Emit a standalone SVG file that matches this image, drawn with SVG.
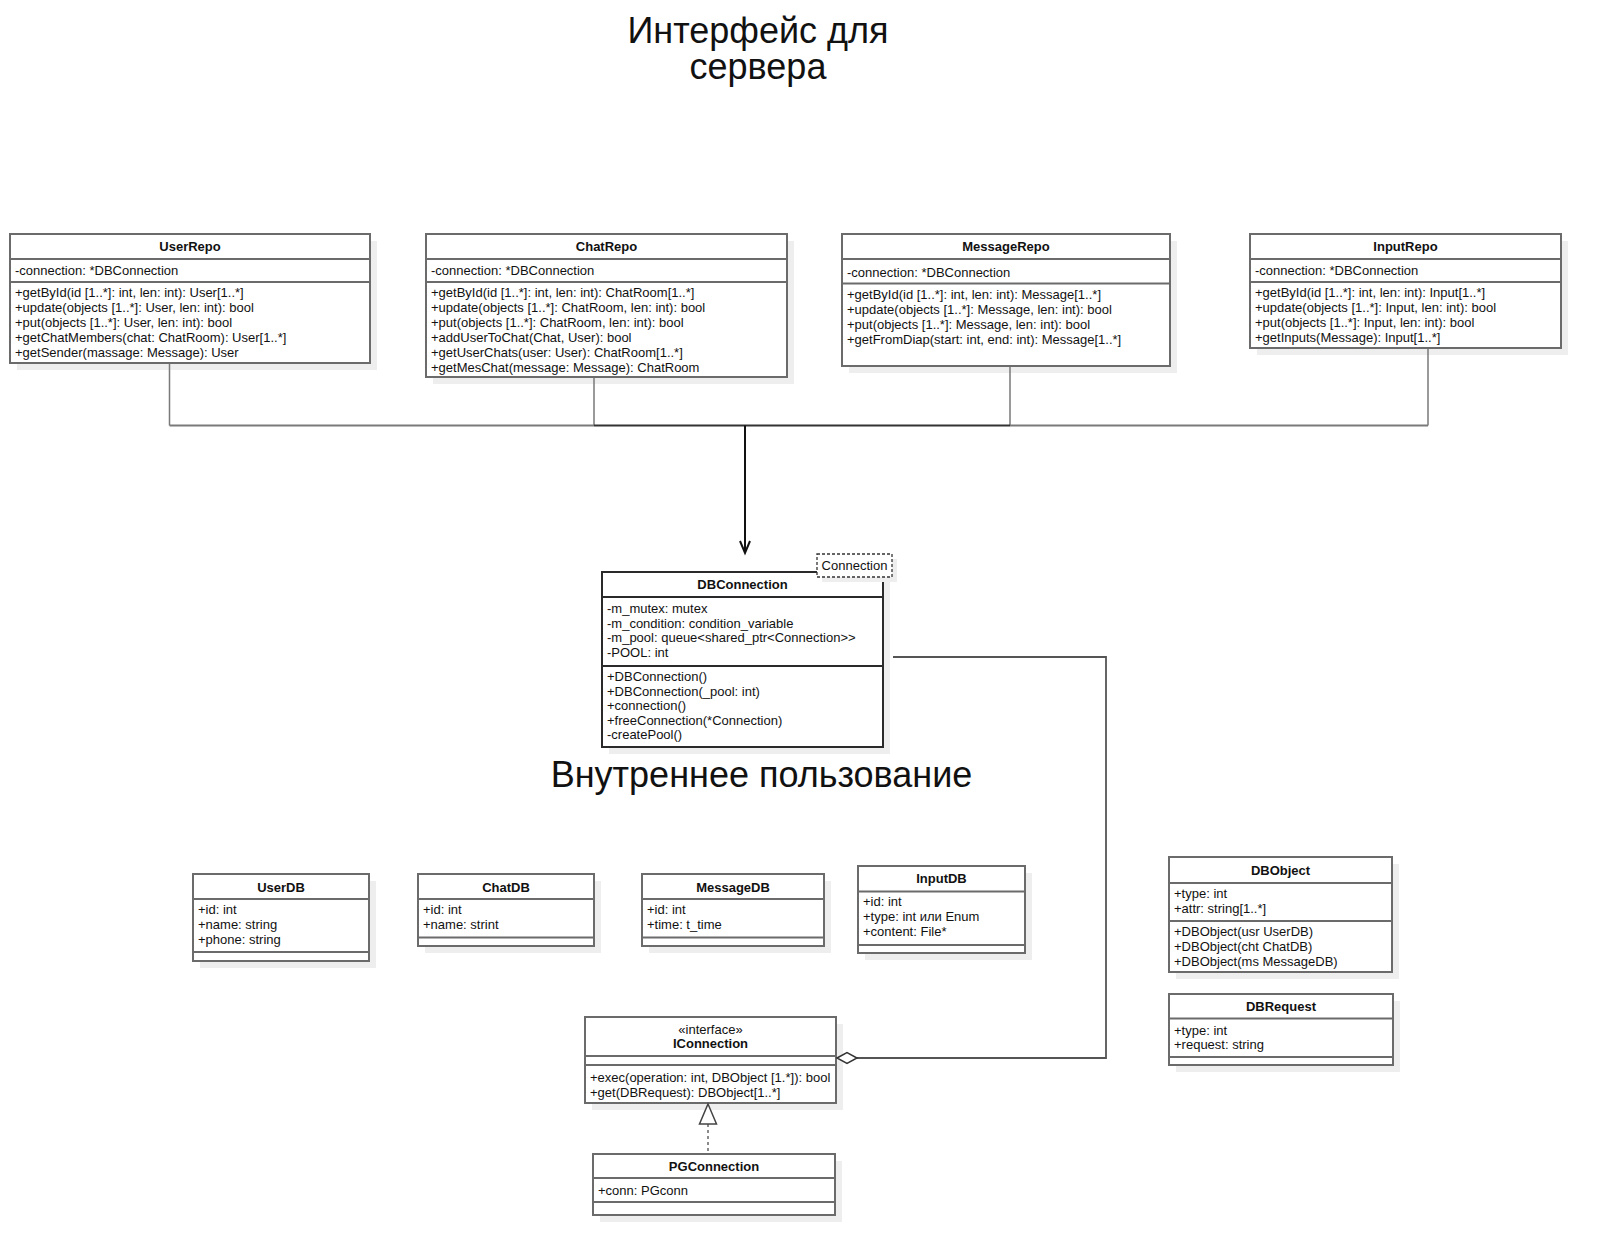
<svg xmlns="http://www.w3.org/2000/svg" width="1601" height="1257" viewBox="0 0 1601 1257">
<style>
text { font-family: "Liberation Sans", Arial, sans-serif; fill:#111; }
.t { font-size:13px; }
.b { font-size:13px; font-weight:bold; text-anchor:middle; }
.m { font-size:13px; text-anchor:middle; }
.big { font-size:36px; text-anchor:middle; }
.box { fill:#fff; stroke:#6b6b6b; stroke-width:2; }
.dk { stroke:#2a2a2a; }
.sh { fill:#eeeeee; }
.sep { stroke:#6b6b6b; stroke-width:2; }
.sepd { stroke:#2a2a2a; stroke-width:2; }
.ln { fill:none; stroke:#7a7a7a; stroke-width:1.5; }
</style>
<rect width="1601" height="1257" fill="#fff"/>

<g id="title-server">
<text class="big" x="758" y="43"><tspan x="758" y="43">Интерфейс для</tspan><tspan x="758" y="79">сервера</tspan></text>
</g>
<g id="title-internal">
<text class="big" x="761.5" y="787">Внутреннее пользование</text>
</g>

<g id="UserRepo">
<rect class="sh" x="17" y="241" width="360" height="129"/>
<rect class="box" x="10" y="234" width="360" height="129"/>
<line class="sep" x1="10" y1="259" x2="370" y2="259"/>
<line class="sep" x1="10" y1="282" x2="370" y2="282"/>
<text class="b" x="190" y="251">UserRepo</text>
<text class="t" x="15" y="275">-connection: *DBConnection</text>
<text class="t" x="15" y="297">+getById(id [1..*]: int, len: int): User[1..*]</text>
<text class="t" x="15" y="312">+update(objects [1..*]: User, len: int): bool</text>
<text class="t" x="15" y="327">+put(objects [1..*]: User, len: int): bool</text>
<text class="t" x="15" y="342">+getChatMembers(chat: ChatRoom): User[1..*]</text>
<text class="t" x="15" y="357">+getSender(massage: Message): User</text>
</g>

<g id="ChatRepo">
<rect class="sh" x="433" y="241" width="361" height="143"/>
<rect class="box" x="426" y="234" width="361" height="143"/>
<line class="sep" x1="426" y1="259" x2="787" y2="259"/>
<line class="sep" x1="426" y1="282" x2="787" y2="282"/>
<text class="b" x="606.5" y="251">ChatRepo</text>
<text class="t" x="431" y="275">-connection: *DBConnection</text>
<text class="t" x="431" y="297">+getById(id [1..*]: int, len: int): ChatRoom[1..*]</text>
<text class="t" x="431" y="312">+update(objects [1..*]: ChatRoom, len: int): bool</text>
<text class="t" x="431" y="327">+put(objects [1..*]: ChatRoom, len: int): bool</text>
<text class="t" x="431" y="342">+addUserToChat(Chat, User): bool</text>
<text class="t" x="431" y="357">+getUserChats(user: User): ChatRoom[1..*]</text>
<text class="t" x="431" y="371.5">+getMesChat(message: Message): ChatRoom</text>
</g>

<g id="MessageRepo">
<rect class="sh" x="849" y="241" width="328" height="132"/>
<rect class="box" x="842" y="234" width="328" height="132"/>
<line class="sep" x1="842" y1="259" x2="1170" y2="259"/>
<line class="sep" x1="842" y1="283.5" x2="1170" y2="283.5"/>
<text class="b" x="1006" y="251">MessageRepo</text>
<text class="t" x="847" y="276.5">-connection: *DBConnection</text>
<text class="t" x="847" y="299">+getById(id [1..*]: int, len: int): Message[1..*]</text>
<text class="t" x="847" y="314">+update(objects [1..*]: Message, len: int): bool</text>
<text class="t" x="847" y="328.5">+put(objects [1..*]: Message, len: int): bool</text>
<text class="t" x="847" y="343.5">+getFromDiap(start: int, end: int): Message[1..*]</text>
</g>

<g id="InputRepo">
<rect class="sh" x="1257" y="241" width="311" height="114"/>
<rect class="box" x="1250" y="234" width="311" height="114"/>
<line class="sep" x1="1250" y1="259" x2="1561" y2="259"/>
<line class="sep" x1="1250" y1="282" x2="1561" y2="282"/>
<text class="b" x="1405.5" y="251">InputRepo</text>
<text class="t" x="1255" y="275">-connection: *DBConnection</text>
<text class="t" x="1255" y="297">+getById(id [1..*]: int, len: int): Input[1..*]</text>
<text class="t" x="1255" y="312">+update(objects [1..*]: Input, len: int): bool</text>
<text class="t" x="1255" y="327">+put(objects [1..*]: Input, len: int): bool</text>
<text class="t" x="1255" y="342">+getInputs(Message): Input[1..*]</text>
</g>

<g id="DBConnection">
<rect class="sh" x="609" y="579" width="281" height="175"/>
<rect class="box dk" x="602" y="572" width="281" height="175"/>
<line class="sepd" x1="602" y1="597" x2="883" y2="597"/>
<line class="sepd" x1="602" y1="666" x2="883" y2="666"/>
<text class="b" x="742.5" y="589">DBConnection</text>
<text class="t" x="607" y="613">-m_mutex: mutex</text>
<text class="t" x="607" y="627.5">-m_condition: condition_variable</text>
<text class="t" x="607" y="642">-m_pool: queue&lt;shared_ptr&lt;Connection&gt;&gt;</text>
<text class="t" x="607" y="656.5">-POOL: int</text>
<text class="t" x="607" y="681">+DBConnection()</text>
<text class="t" x="607" y="695.5">+DBConnection(_pool: int)</text>
<text class="t" x="607" y="710">+connection()</text>
<text class="t" x="607" y="724.5">+freeConnection(*Connection)</text>
<text class="t" x="607" y="739">-createPool()</text>
<rect class="sh" x="822" y="559" width="75" height="23"/>
<rect x="817" y="554" width="75" height="23" fill="#fff" stroke="#333" stroke-width="1.3" stroke-dasharray="3 2"/>
<text class="m" x="854.5" y="569.5">Connection</text>
</g>

<g id="UserDB">
<rect class="sh" x="200" y="881" width="176" height="87"/>
<rect class="box" x="193" y="874" width="176" height="87"/>
<line class="sep" x1="193" y1="899" x2="369" y2="899"/>
<line class="sep" x1="193" y1="952" x2="369" y2="952"/>
<text class="b" x="281" y="891.5">UserDB</text>
<text class="t" x="198" y="914">+id: int</text>
<text class="t" x="198" y="929">+name: string</text>
<text class="t" x="198" y="944">+phone: string</text>
</g>

<g id="ChatDB">
<rect class="sh" x="425" y="881" width="176" height="72"/>
<rect class="box" x="418" y="874" width="176" height="72"/>
<line class="sep" x1="418" y1="899" x2="594" y2="899"/>
<line class="sep" x1="418" y1="937.5" x2="594" y2="937.5"/>
<text class="b" x="506" y="891.5">ChatDB</text>
<text class="t" x="423" y="914">+id: int</text>
<text class="t" x="423" y="929">+name: strint</text>
</g>

<g id="MessageDB">
<rect class="sh" x="649" y="881" width="182" height="72"/>
<rect class="box" x="642" y="874" width="182" height="72"/>
<line class="sep" x1="642" y1="899" x2="824" y2="899"/>
<line class="sep" x1="642" y1="937.5" x2="824" y2="937.5"/>
<text class="b" x="733" y="891.5">MessageDB</text>
<text class="t" x="647" y="914">+id: int</text>
<text class="t" x="647" y="929">+time: t_time</text>
</g>

<g id="InputDB">
<rect class="sh" x="865" y="873" width="167" height="87"/>
<rect class="box" x="858" y="866" width="167" height="87"/>
<line class="sep" x1="858" y1="891.5" x2="1025" y2="891.5"/>
<line class="sep" x1="858" y1="945" x2="1025" y2="945"/>
<text class="b" x="941.5" y="883">InputDB</text>
<text class="t" x="863" y="906">+id: int</text>
<text class="t" x="863" y="921">+type: int или Enum</text>
<text class="t" x="863" y="936">+content: File*</text>
</g>

<g id="DBObject">
<rect class="sh" x="1176" y="864" width="223" height="115"/>
<rect class="box" x="1169" y="857" width="223" height="115"/>
<line class="sep" x1="1169" y1="883" x2="1392" y2="883"/>
<line class="sep" x1="1169" y1="921" x2="1392" y2="921"/>
<text class="b" x="1280.5" y="875">DBObject</text>
<text class="t" x="1174" y="898">+type: int</text>
<text class="t" x="1174" y="912.5">+attr: string[1..*]</text>
<text class="t" x="1174" y="936">+DBObject(usr UserDB)</text>
<text class="t" x="1174" y="951">+DBObject(cht ChatDB)</text>
<text class="t" x="1174" y="965.5">+DBObject(ms MessageDB)</text>
</g>

<g id="DBRequest">
<rect class="sh" x="1176" y="1001" width="224" height="71"/>
<rect class="box" x="1169" y="994" width="224" height="71"/>
<line class="sep" x1="1169" y1="1018.5" x2="1393" y2="1018.5"/>
<line class="sep" x1="1169" y1="1057" x2="1393" y2="1057"/>
<text class="b" x="1281" y="1010.5">DBRequest</text>
<text class="t" x="1174" y="1034.5">+type: int</text>
<text class="t" x="1174" y="1049">+request: string</text>
</g>

<g id="IConnection">
<rect class="sh" x="592" y="1024" width="251" height="86"/>
<rect class="box" x="585" y="1017" width="251" height="86"/>
<line class="sep" x1="585" y1="1056" x2="836" y2="1056"/>
<line class="sep" x1="585" y1="1065" x2="836" y2="1065"/>
<text class="m" x="710.5" y="1033.5">«interface»</text>
<text class="b" x="710.5" y="1047.5">IConnection</text>
<text class="t" x="590" y="1081.5">+exec(operation: int, DBObject [1.*]): bool</text>
<text class="t" x="590" y="1096.5">+get(DBRequest): DBObject[1..*]</text>
</g>

<g id="PGConnection">
<rect class="sh" x="600" y="1161" width="242" height="61"/>
<rect class="box" x="593" y="1154" width="242" height="61"/>
<line class="sep" x1="593" y1="1178" x2="835" y2="1178"/>
<line class="sep" x1="593" y1="1202" x2="835" y2="1202"/>
<text class="b" x="714" y="1170.5">PGConnection</text>
<text class="t" x="598" y="1194.5">+conn: PGconn</text>
</g>

<g id="connectors">
<path class="ln" d="M169.5 364 V425.5 M594 378 V425.5 M1010 367 V425.5 M1428 349 V425.5"/>
<path fill="none" stroke="#7a7a7a" stroke-width="2" d="M169.5 425.5 H594 M1010 425.5 H1428"/>
<path fill="none" stroke="#333" stroke-width="2.2" d="M594 425.5 H1010"/>
<path fill="none" stroke="#111" stroke-width="2" d="M745 425.5 V552"/>
<path fill="none" stroke="#111" stroke-width="2" d="M740 541 L745 553 L750 541"/>
<path fill="none" stroke="#555" stroke-width="1.8" d="M893 657 H1106 V1058 H857"/>
<path fill="#fff" stroke="#333" stroke-width="1.5" d="M837 1058 L847 1052.5 L857 1058 L847 1063.5 Z"/>
<path fill="none" stroke="#666" stroke-width="1.5" stroke-dasharray="3 3" d="M708 1124 V1153"/>
<path fill="#fff" stroke="#444" stroke-width="1.5" d="M708 1104 L716.5 1124 L699.5 1124 Z"/>
</g>
</svg>
